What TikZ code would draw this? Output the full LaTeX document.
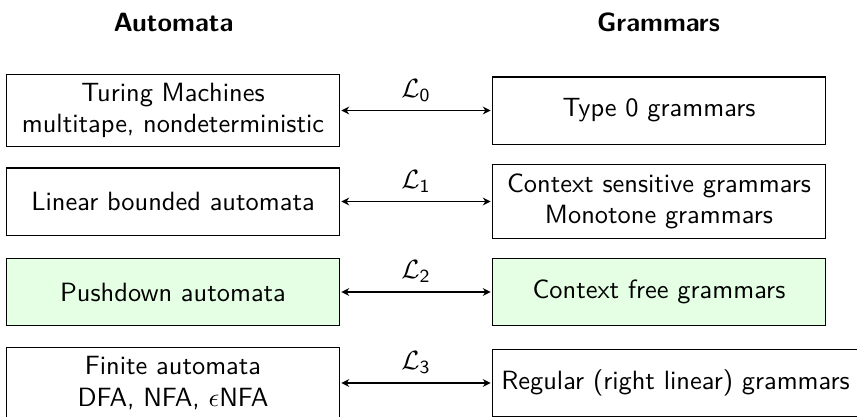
\documentclass[tikz,border=0pt]{standalone}
\usetikzlibrary{arrows.meta}
\begin{document}
\begin{tikzpicture}[x=0.3788pt,y=-0.3788pt,font=\sffamily,
  box/.style={draw,minimum width=126.1pt,minimum height=25.4pt,align=center},
  autbox/.style={box,anchor=east},
  grambox/.style={box,anchor=west},
  cfl/.style={fill=green!10},
  link/.style={{Stealth[length=3pt,width=3pt]}-{Stealth[length=3pt,width=3pt]},shorten <=0.5pt,shorten >=0.5pt},
  head/.style={font=\sffamily\bfseries}]
\useasboundingbox (0,0) rectangle (857,417);

% column headings
\node[head] (ha) at (173.5,22) {Automata};
\node[head] (hg) at (658.5,22) {Grammars};

% Chomsky hierarchy: machine model <-> grammar class
\node[autbox] (a0) at (340,110.5) {Turing Machines\\multitape, nondeterministic};
\node[grambox] (g0) at (492,110.5) {Type 0 grammars};

\node[autbox] (a1) at (340,201.5) {Linear bounded automata};
\node[grambox] (g1) at (492,201.5) {Context sensitive grammars\\Monotone grammars};

\node[autbox,cfl] (a2) at (340,292) {Pushdown automata};
\node[grambox,cfl] (g2) at (492,292) {Context free grammars};

\node[autbox] (a3) at (340,383) {Finite automata\\DFA, NFA, $\epsilon$NFA};
\node[grambox] (g3) at (492,383) {Regular (right linear) grammars};

\draw[link] (a0) -- node[above] (l0) {$\mathcal{L}_{\mathsf{0}}$} (g0);
\draw[link] (a1) -- node[above] (l1) {$\mathcal{L}_{\mathsf{1}}$} (g1);
\draw[link] (a2) -- node[above] (l2) {$\mathcal{L}_{\mathsf{2}}$} (g2);
\draw[link] (a3) -- node[above] (l3) {$\mathcal{L}_{\mathsf{3}}$} (g3);
\end{tikzpicture}
\end{document}
